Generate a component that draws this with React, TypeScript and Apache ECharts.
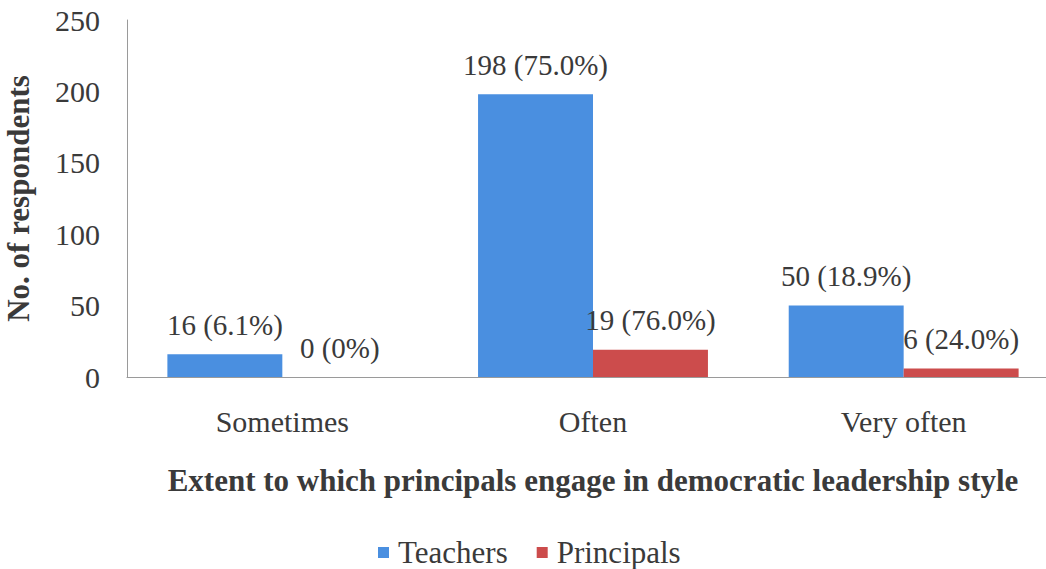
import React, { useEffect, useRef } from "react";
import * as echarts from "echarts";

const categories = ["Sometimes", "Often", "Very often"];
const teachers = [16, 198, 50];
const teachersPct = ["6.1%", "75.0%", "18.9%"];
const principals = [0, 19, 6];
const principalsPct = ["0%", "76.0%", "24.0%"];
const yTicks = { min: 0, max: 250, interval: 50 };

const FONT = "Liberation Serif";
const TEXT = "#3a3a3a";

export default function App() {
  const ref = useRef<HTMLDivElement>(null);
  useEffect(() => {
    if (!ref.current) return;
    const chart = echarts.init(ref.current, null, { renderer: "svg" });
    chart.setOption({
      animation: false,
      backgroundColor: "#ffffff",
      textStyle: { fontFamily: FONT, color: TEXT },
      grid: {
        left: 127,
        right: -13,
        top: 20,
        bottom: 192,
        containLabel: false,
        outerBoundsMode: "none",
      },
      legend: {
        top: 537,
        left: 378,
        padding: 0,
        itemWidth: 11,
        itemHeight: 11,
        itemGap: 29,
        icon: "rect",
        textStyle: { fontFamily: FONT, fontSize: 31, color: TEXT, padding: [0, 0, 0, 4] },
        data: ["Teachers", "Principals"],
      },
      xAxis: {
        type: "category",
        data: categories,
        axisLine: { lineStyle: { color: "#9a9a9a", width: 1 } },
        axisTick: { show: false },
        axisLabel: { fontFamily: FONT, fontSize: 30, color: TEXT, margin: 29 },
        name: "Extent to which principals engage in democratic leadership style",
        nameLocation: "middle",
        nameGap: 88,
        nameTextStyle: { fontFamily: FONT, fontSize: 31, fontWeight: "bold", color: TEXT },
      },
      yAxis: {
        type: "value",
        min: yTicks.min,
        max: yTicks.max,
        interval: yTicks.interval,
        splitLine: { show: false },
        axisLine: { show: true, lineStyle: { color: "#9a9a9a", width: 1 } },
        axisTick: { show: false },
        axisLabel: { fontFamily: FONT, fontSize: 30, color: TEXT, margin: 27 },
        name: "No. of respondents",
        nameLocation: "middle",
        nameRotate: 90,
        nameGap: 93,
        nameTextStyle: { fontFamily: FONT, fontSize: 31, fontWeight: "bold", color: TEXT },
      },
      series: [
        {
          name: "Teachers",
          type: "bar",
          data: teachers,
          barGap: "0%",
          barCategoryGap: "26%",
          itemStyle: { color: "#4a8fe0" },
          label: {
            show: true,
            position: "top",
            distance: 15,
            fontFamily: FONT,
            fontSize: 29,
            color: TEXT,
            formatter: (p: any) => `${teachers[p.dataIndex]} (${teachersPct[p.dataIndex]})`,
          },
        },
        {
          name: "Principals",
          type: "bar",
          data: principals,
          barGap: "0%",
          barCategoryGap: "26%",
          itemStyle: { color: "#cc4c4c" },
          label: {
            show: true,
            position: "top",
            distance: 15,
            fontFamily: FONT,
            fontSize: 29,
            color: TEXT,
            formatter: (p: any) => `${principals[p.dataIndex]} (${principalsPct[p.dataIndex]})`,
          },
        },
      ],
    });
    return () => chart.dispose();
  }, []);
  return <div ref={ref} style={{ width: 1046, height: 569, position: "absolute", left: 0, top: 0 }} />;
}
